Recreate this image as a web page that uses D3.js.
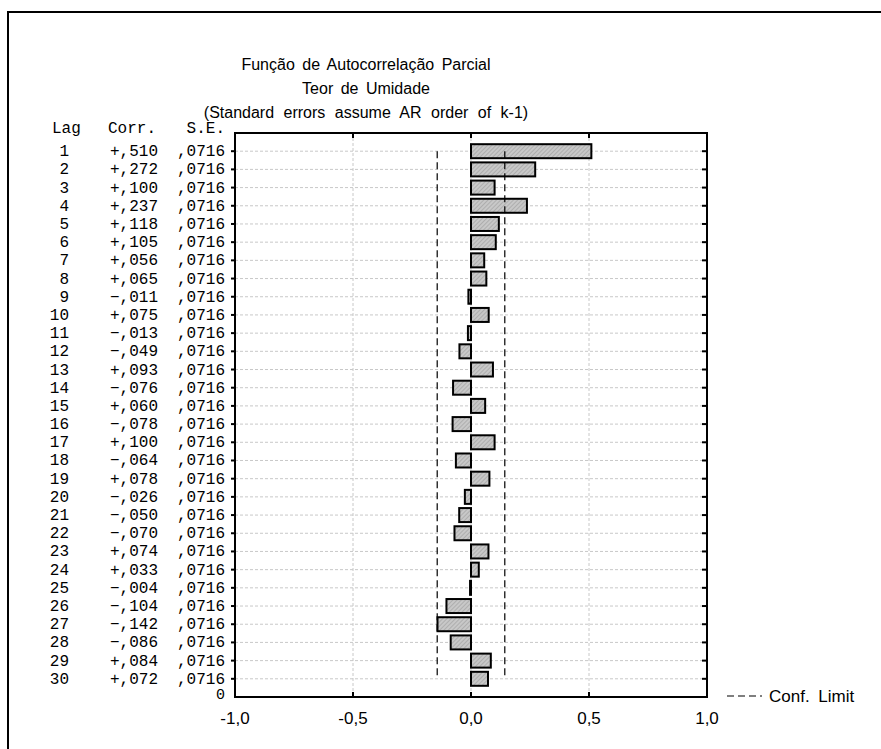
<!DOCTYPE html>
<html>
<head>
<meta charset="utf-8">
<script src="https://cdn.jsdelivr.net/npm/d3@7"></script>
<style>
  body { margin: 0; background: #fff; }
  .mono { font-family: "Liberation Mono", "Courier New", monospace; }
  .sans { font-family: "Liberation Sans", Arial, sans-serif; }
</style>
</head>
<body>
<div id="my_chart"></div>
<script>
// Chart data
var lags = d3.range(1, 31);
var corr = [0.510, 0.272, 0.100, 0.237, 0.118, 0.105, 0.056, 0.065, -0.011, 0.075,
  -0.013, -0.049, 0.093, -0.076, 0.060, -0.078, 0.100, -0.064, 0.078, -0.026,
  -0.050, -0.070, 0.074, 0.033, -0.004, -0.104, -0.142, -0.086, 0.084, 0.072];
var stdErr = lags.map(function () { return 0.0716; });
var xTicks = [-1, -0.5, 0, 0.5, 1];
var titles = ["Função de Autocorrelação Parcial", "Teor de Umidade",
  "(Standard errors assume AR order of k-1)"];

var W = 881, H = 749;
var plot = { left: 235, right: 707, top: 133, bottom: 697 };

var svg = d3.select("#my_chart").append("svg")
  .attr("width", W).attr("height", H);

// hatch pattern for bars
var pat = svg.append("defs").append("pattern")
  .attr("id", "hatch").attr("patternUnits", "userSpaceOnUse")
  .attr("width", 3).attr("height", 3)
  .attr("patternTransform", "rotate(45)");
pat.append("rect").attr("width", 3).attr("height", 3).attr("fill", "#c8c8c8");
pat.append("line").attr("x1", 0).attr("y1", 0).attr("x2", 0).attr("y2", 3)
  .attr("stroke", "#9c9c9c").attr("stroke-width", 1.2);

// outer frame
svg.append("rect").attr("x", 8).attr("y", 12).attr("width", W).attr("height", H)
  .attr("fill", "none").attr("stroke", "#000").attr("stroke-width", 2);

// scales
var x = d3.scaleLinear().domain([-1, 1]).range([plot.left, plot.right]);
var y = d3.scaleLinear().domain([0, 31]).range([plot.bottom, plot.top]);
function rowY(lag) { return y(31 - lag); }

// titles
svg.selectAll(".title").data(titles).enter().append("text")
  .attr("class", "sans")
  .attr("x", 366).attr("y", function (d, i) { return 70 + i * 24; })
  .attr("text-anchor", "middle")
  .style("font-size", "16px")
  .style("word-spacing", function (d, i) { return i == 2 ? "5px" : "3px"; })
  .text(function (d) { return d; });

// gridlines
svg.append("g").selectAll("line").data(lags).enter().append("line")
  .attr("x1", plot.left).attr("x2", plot.right)
  .attr("y1", rowY).attr("y2", rowY)
  .attr("stroke", "#c8c8c8").attr("stroke-dasharray", "3,2");
svg.append("g").selectAll("line").data([-0.5, 0, 0.5]).enter().append("line")
  .attr("x1", x).attr("x2", x)
  .attr("y1", plot.top).attr("y2", plot.bottom)
  .attr("stroke", "#c8c8c8").attr("stroke-dasharray", "3,2");

// bars
var barH = 14;
svg.append("g").selectAll("rect").data(corr).enter().append("rect")
  .attr("x", function (d) { return x(Math.min(0, d)); })
  .attr("width", function (d) { return Math.abs(x(d) - x(0)); })
  .attr("y", function (d, i) { return rowY(lags[i]) - barH / 2; })
  .attr("height", barH)
  .attr("fill", "url(#hatch)")
  .attr("stroke", "#000").attr("stroke-width", 2);

// confidence limits
var upper = lags.map(function (l, i) { return [2 * stdErr[i], rowY(l)]; });
var lower = lags.map(function (l, i) { return [-2 * stdErr[i], rowY(l)]; });
var limLine = d3.line().x(function (d) { return x(d[0]); }).y(function (d) { return d[1]; });
[upper, lower].forEach(function (pts) {
  svg.append("path").datum(pts).attr("d", limLine)
    .attr("fill", "none").attr("stroke", "#000")
    .attr("stroke-width", 1.2).attr("stroke-dasharray", "7,4");
});

// frame of plot
svg.append("rect")
  .attr("x", plot.left).attr("y", plot.top)
  .attr("width", plot.right - plot.left).attr("height", plot.bottom - plot.top)
  .attr("fill", "none").attr("stroke", "#000").attr("stroke-width", 2);

// ticks
var tk = svg.append("g").attr("stroke", "#000").attr("stroke-width", 2);
lags.forEach(function (l) {
  tk.append("line").attr("x1", plot.left - 4).attr("x2", plot.left).attr("y1", rowY(l)).attr("y2", rowY(l));
  tk.append("line").attr("x1", plot.right - 5).attr("x2", plot.right).attr("y1", rowY(l)).attr("y2", rowY(l));
});
[-0.5, 0, 0.5].forEach(function (v) {
  tk.append("line").attr("x1", x(v)).attr("x2", x(v)).attr("y1", plot.top).attr("y2", plot.top + 5);
  tk.append("line").attr("x1", x(v)).attr("x2", x(v)).attr("y1", plot.bottom - 5).attr("y2", plot.bottom);
});

// x tick labels
svg.selectAll(".xt").data(xTicks).enter().append("text")
  .attr("class", "sans")
  .attr("x", x).attr("y", 724)
  .attr("text-anchor", "middle")
  .style("font-size", "17px")
  .text(function (d) { return d3.format(".1f")(d).replace(".", ",").replace("\u2212", "-"); });

// table on the left
var fmtCorr = function (d) {
  var s = d3.format(".3f")(Math.abs(d)).replace("0.", ",");
  return (d < 0 ? "\u2212" : "+") + s;
};
var fmtSE = function (d) { return d3.format(".4f")(d).replace("0.", ","); };
var tbl = svg.append("g").attr("class", "mono").style("font-size", "16px");
tbl.append("text").attr("x", 52).attr("y", 133).text("Lag");
tbl.append("text").attr("x", 108).attr("y", 133).text("Corr.");
tbl.append("text").attr("x", 225).attr("y", 133).attr("text-anchor", "end").text("S.E.");
lags.forEach(function (l, i) {
  var yy = rowY(l) + 5;
  tbl.append("text").attr("x", 69).attr("y", yy).attr("text-anchor", "end").text(l);
  tbl.append("text").attr("x", 158).attr("y", yy).attr("text-anchor", "end").text(fmtCorr(corr[i]));
  tbl.append("text").attr("x", 225).attr("y", yy).attr("text-anchor", "end").text(fmtSE(stdErr[i]));
});
tbl.append("text").attr("x", 225).attr("y", 699).attr("text-anchor", "end")
  .style("font-size", "15px").text("0");

// legend
svg.append("line").attr("x1", 727).attr("x2", 762).attr("y1", 696).attr("y2", 696)
  .attr("stroke", "#000").attr("stroke-width", 1.2).attr("stroke-dasharray", "7,4");
svg.append("text").attr("class", "sans").attr("x", 769).attr("y", 702)
  .style("font-size", "17px").style("word-spacing", "4px").text("Conf. Limit");
</script>
</body>
</html>
